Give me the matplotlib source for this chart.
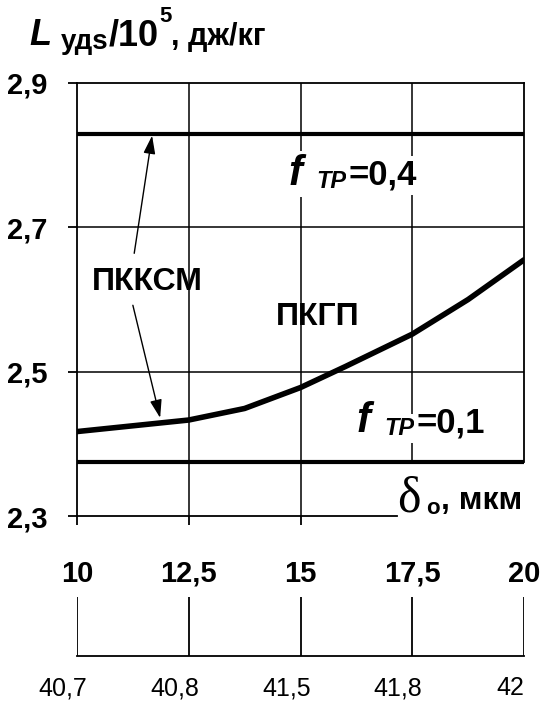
import matplotlib

matplotlib.use("Agg")

import matplotlib.pyplot as plt
import matplotlib.transforms as mtransforms

plt.rcParams["font.family"] = ["Liberation Sans", "DejaVu Sans"]
plt.rcParams["font.weight"] = "bold"

# main scale: delta_o, mkm
delta_ticks = [10, 12.5, 15, 17.5, 20]
delta_labels = ["10", "12,5", "15", "17,5", "20"]
# second scale under the chart
second_labels = ["40,7", "40,8", "41,5", "41,8", "42"]

L_ticks = [2.3, 2.5, 2.7, 2.9]
L_labels = ["2,3", "2,5", "2,7", "2,9"]

# ПКГП curve
pkgp_delta = [10, 11.25, 12.5, 13.75, 15, 16, 17.5, 18.75, 20]
pkgp_L = [2.417, 2.425, 2.433, 2.449, 2.478, 2.507, 2.552, 2.600, 2.655]

# ПККСМ levels for two friction coefficients
f_tr = ["0,4", "0,1"]
pkksm_L = [2.83, 2.375]

W, H = 541, 708
fig = plt.figure(figsize=(W / 100, H / 100), dpi=100)


def fx(px):
    return px / W


def fy(py):
    return 1 - py / H


left, right, top, bottom = 77, 524, 83, 516
ax = fig.add_axes([fx(left), fy(bottom), fx(right - left), fy(top) - fy(bottom)])
ax.set_xlim(10, 20)
ax.set_ylim(2.3, 2.9)

for s in ("top", "left", "right", "bottom"):
    ax.spines[s].set_linewidth(1.3)
ax.spines["right"].set_bounds(pkksm_L[1], 2.9)
ax.spines["bottom"].set_bounds(10, 17.16)

ax.set_yticks(L_ticks, L_labels)
ax.set_xticks(delta_ticks, delta_labels)
ax.tick_params(axis="y", direction="out", length=6.5, width=1.3, pad=15, labelsize=21)
ax.tick_params(axis="x", direction="out", length=6.5, width=1.3, pad=25, labelsize=21)
for t in ax.xaxis.get_major_ticks()[3:]:
    t.tick1line.set_visible(False)
for lab in ax.get_xticklabels() + ax.get_yticklabels():
    lab.set_fontweight("bold")

# grid
grid_kw = dict(color="black", lw=1.1, zorder=1)
for y in L_ticks[1:3]:
    ax.axhline(y, **grid_kw)
for x in delta_ticks[1:3]:
    ax.axvline(x, **grid_kw)
ax.plot([delta_ticks[3]] * 2, [pkksm_L[1], 2.9], **grid_kw)

# thick lines
for level in pkksm_L:
    ax.axhline(level, color="black", lw=3.0, zorder=3, solid_capstyle="round")
ax.plot(pkgp_delta, pkgp_L, color="black", lw=4.0, zorder=3,
        solid_capstyle="round", solid_joinstyle="round")

# labels inside the plot
ax.text(11.57, 2.624, "ПККСМ", ha="center", va="center", fontsize=23,
        fontweight="bold", zorder=4)
ax.text(15.39, 2.576, "ПКГП", ha="center", va="center", fontsize=23,
        fontweight="bold", zorder=4)

arrow_kw = dict(arrowstyle="-|>,head_length=0.55,head_width=0.18", lw=1.0,
                color="black", shrinkA=0, shrinkB=0, mutation_scale=20)
ax.annotate("", xy=(11.68, pkksm_L[0] - 0.003), xytext=(11.28, 2.664),
            arrowprops=arrow_kw, zorder=4)
ax.annotate("", xy=(11.86, 2.436), xytext=(11.25, 2.592),
            arrowprops=arrow_kw, zorder=4)


def f_label(x0, base, value):
    box = dict(facecolor="white", edgecolor="none", pad=2)
    fig.text(fx(x0), fy(base), "f", fontsize=30, fontweight="bold",
             fontstyle="italic", va="baseline", bbox=box, zorder=5)
    fig.text(fx(x0 + 28), fy(base + 3), "ТР", fontsize=17, fontweight="bold",
             fontstyle="italic", va="baseline", bbox=box, zorder=5)
    fig.text(fx(x0 + 61), fy(base), "=" + value, fontsize=25, fontweight="bold",
             va="baseline", bbox=box, zorder=5)


f_label(288, 185, f_tr[0])
f_label(356, 432, f_tr[1])

# axis titles
fig.text(fx(29), fy(45), "L", fontsize=26, fontweight="bold", fontstyle="italic",
         va="baseline")
fig.text(fx(61), fy(49), "удs", fontsize=20, fontweight="bold", va="baseline")
fig.text(fx(109), fy(45), "/10", fontsize=26, fontweight="bold", va="baseline")
fig.text(fx(159), fy(22), "5", fontsize=16, fontweight="bold", va="baseline")
fig.text(fx(171), fy(45), ", дж/кг", fontsize=22, fontweight="bold", va="baseline")

fig.text(fx(397), fy(512), "δ", fontsize=36, family="Liberation Serif",
         fontweight="normal", va="baseline")
fig.text(fx(426), fy(514), "o", fontsize=16, fontweight="bold", va="baseline")
fig.text(fx(441), fy(509), ", мкм", fontsize=23, fontweight="bold", va="baseline")

# second scale
ax2 = fig.add_axes([fx(left), fy(656), fx(right - left), fy(597) - fy(656)])
ax2.set_xlim(10, 20)
ax2.set_ylim(0, 1)
for s in ("top", "left", "right"):
    ax2.spines[s].set_visible(False)
ax2.spines["bottom"].set_linewidth(1.3)
ax2.set_xticks([])
ax2.set_yticks([])
ax2.vlines(delta_ticks, 0, 1, color="black", lw=1.3)
shift = mtransforms.ScaledTranslation(-14 / 100, 0, fig.dpi_scale_trans)
for x, lab in zip(delta_ticks, second_labels):
    ax2.text(x, -0.55, lab, ha="center", va="center", fontsize=18,
             fontweight="normal", transform=ax2.get_xaxis_transform() + shift)

fig.savefig("out.png", dpi=100)
